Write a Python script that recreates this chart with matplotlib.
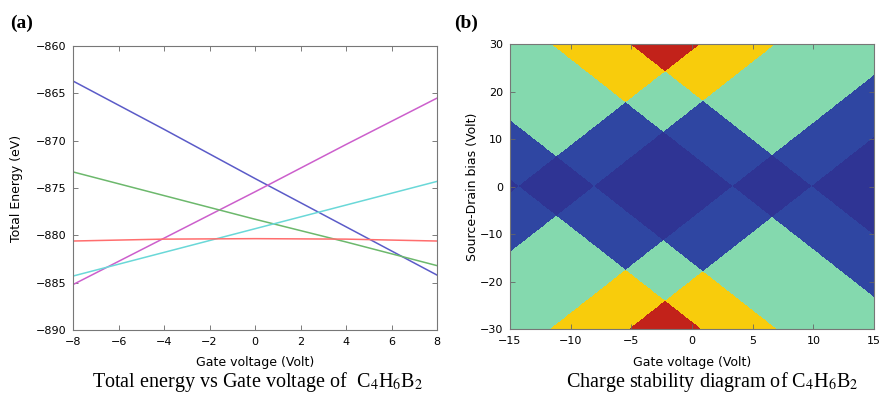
import numpy as np
import matplotlib
matplotlib.use("Agg")
import matplotlib.pyplot as plt
from matplotlib.colors import ListedColormap

plt.rcParams["font.family"] = "DejaVu Sans"
plt.rcParams["mathtext.fontset"] = "stix"

# (a) total energy of each charge state vs gate voltage
gate_v = [-8, -4, 0, 4, 8]
energy_blue = [-863.7, -868.8, -874.0, -879.1, -884.2]
energy_magenta = [-885.2, -880.3, -875.4, -870.4, -865.5]
energy_green = [-873.3, -875.8, -878.3, -880.7, -883.2]
energy_cyan = [-884.3, -881.8, -879.3, -876.8, -874.3]
energy_red = [-880.6, -880.4, -880.35, -880.4, -880.6]

# (b) charge stability diagram: degeneracy points on the gate axis and diamond edge slope
transition_vg = [-14.3, -8.1, 3.3, 9.8]
edge_slope = 2.0
state_colors = ["#2f3494", "#2f46a2", "#84d9ae", "#f8cc0c", "#c2221a"]

fig = plt.figure(figsize=(8.81, 3.93), dpi=100)

# 패널 (a)
ax1 = fig.add_axes([0.0829, 0.1603, 0.4132, 0.7226])
ax1.plot(gate_v, energy_blue, color="#5b5bc8", lw=1.1)
ax1.plot(gate_v, energy_magenta, color="#cc5fcc", lw=1.1)
ax1.plot(gate_v, energy_green, color="#6cb86c", lw=1.1)
ax1.plot(gate_v, energy_cyan, color="#6ad8d8", lw=1.1)
ax1.plot(gate_v, energy_red, color="#ff6e6e", lw=1.1)
ax1.set_xlim(-8, 8)
ax1.set_ylim(-890, -860)
ax1.set_xticks(range(-8, 9, 2))
ax1.set_yticks(range(-890, -859, 5))
ax1.set_xlabel("Gate voltage (Volt)", fontsize=9)
ax1.set_ylabel("Total Energy (eV)", fontsize=9)
ax1.xaxis.set_label_coords(0.5, -0.093)
ax1.yaxis.set_label_coords(-0.137, 0.5)

# 패널 (b)
ax2 = fig.add_axes([0.5789, 0.1628, 0.4132, 0.7252])
vg = np.linspace(-15, 15, 1200)
vsd = np.linspace(-30, 30, 1200)
VG, VSD = np.meshgrid(vg, vsd)
count = np.zeros_like(VG)
for g in transition_vg:
    count += (np.abs(VSD) >= edge_slope * np.abs(VG - g))
ax2.imshow(count, origin="lower", extent=[-15, 15, -30, 30], aspect="auto",
           cmap=ListedColormap(state_colors), vmin=-0.5, vmax=4.5,
           interpolation="nearest")
ax2.set_xlim(-15, 15)
ax2.set_ylim(-30, 30)
ax2.set_xticks(range(-15, 16, 5))
ax2.set_yticks(range(-30, 31, 10))
ax2.set_xlabel("Gate voltage (Volt)", fontsize=9)
ax2.set_ylabel("Source-Drain bias (Volt)", fontsize=9)
ax2.xaxis.set_label_coords(0.5, -0.093)
ax2.yaxis.set_label_coords(-0.085, 0.5)

for ax in (ax1, ax2):
    ax.tick_params(direction="in", top=True, right=True, length=3.5, width=0.6,
                   labelsize=8, pad=5, color="#666666")
    for sp in ax.spines.values():
        sp.set_linewidth(0.8)
        sp.set_color("#777777")

# 라벨과 캡션
fig.text(0.011, 0.941, "(a)", fontsize=14, fontweight="bold",
         family="Liberation Serif", va="center", ha="left")
fig.text(0.516, 0.941, "(b)", fontsize=14, fontweight="bold",
         family="Liberation Serif", va="center", ha="left")
fig.text(0.292, 0.014, r"Total energy vs Gate voltage of  C$_4$H$_6$B$_2$",
         fontsize=14.5, family="Liberation Serif", ha="center", va="baseline")
fig.text(0.809, 0.014, r"Charge stability diagram of C$_4$H$_6$B$_2$",
         fontsize=14.5, family="Liberation Serif", ha="center", va="baseline")

fig.savefig("out.png", dpi=100)
